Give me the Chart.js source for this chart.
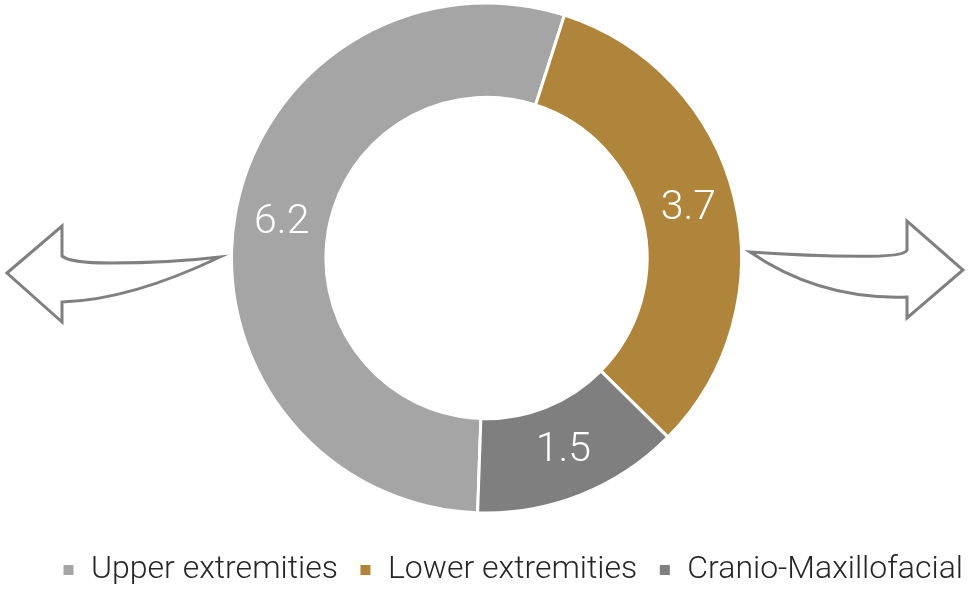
<!DOCTYPE html>
<html>
<head>
<meta charset="utf-8">
<script src="https://cdn.jsdelivr.net/npm/chart.js@4.4.0/dist/chart.umd.min.js"></script>
<style>
  html, body { margin: 0; padding: 0; background: #fff; }
  #wrap { width: 973px; height: 590px; position: relative; }
</style>
</head>
<body>
<div id="wrap"><canvas id="regionChart"></canvas></div>
<script>
// chart data
const regions = ["Upper extremities", "Lower extremities", "Cranio-Maxillofacial"];
const shares = [6.2, 3.7, 1.5];
const sliceColors = ["#a5a5a5", "#af843b", "#7f7f7f"];

// white value labels in the middle of each ring slice
const valueLabels = {
    id: "valueLabels",
    afterDatasetsDraw(chart) {
        let ctx = chart.ctx;
        let meta = chart.getDatasetMeta(0);
        ctx.save();
        ctx.fillStyle = "#fff";
        ctx.font = "300 41px Roboto";
        ctx.textAlign = "center";
        ctx.textBaseline = "middle";
        meta.data.forEach((arc, i) => {
            let pos = arc.tooltipPosition();
            ctx.fillText(String(shares[i]), pos.x, pos.y);
        });
        ctx.restore();
    }
};

// the two outline arrows either side of the ring (decoration only)
const sideArrows = {
    id: "sideArrows",
    afterDraw(chart) {
        let ctx = chart.ctx;
        ctx.save();
        ctx.strokeStyle = "#808080";
        ctx.lineWidth = 3;
        ctx.lineJoin = "miter";

        // left arrow
        ctx.beginPath();
        ctx.moveTo(7, 273);
        ctx.lineTo(62, 226);
        ctx.lineTo(62, 256);
        ctx.quadraticCurveTo(70, 263, 110, 263);
        ctx.quadraticCurveTo(170, 263, 220, 257);
        ctx.quadraticCurveTo(130, 300, 62, 302);
        ctx.lineTo(62, 322);
        ctx.closePath();
        ctx.stroke();

        // right arrow
        ctx.beginPath();
        ctx.moveTo(750, 252);
        ctx.quadraticCurveTo(820, 257, 880, 256);
        ctx.quadraticCurveTo(905, 255, 907, 250);
        ctx.lineTo(907, 221);
        ctx.lineTo(963, 270);
        ctx.lineTo(907, 318);
        ctx.lineTo(907, 297);
        ctx.quadraticCurveTo(820, 300, 750, 252);
        ctx.closePath();
        ctx.stroke();

        ctx.restore();
    }
};

new Chart(document.getElementById("regionChart"), {
    type: "doughnut",
    data: {
        labels: regions,
        datasets: [{
            data: shares,
            backgroundColor: sliceColors,
            borderColor: "#fff",
            borderWidth: 3,
            hoverOffset: 0,
            radius: 255
        }]
    },
    options: {
        responsive: true,
        maintainAspectRatio: false,
        animation: false,
        rotation: 182,
        cutout: "63%",
        layout: {
            padding: { top: 0, bottom: -6, left: -14, right: -11 }
        },
        plugins: {
            legend: {
                position: "bottom",
                align: "end",
                // empty title only used as a spacer above the legend row
                title: {
                    display: true,
                    text: "",
                    font: { size: 1, lineHeight: 1 },
                    padding: { top: 16, bottom: 0 }
                },
                labels: {
                    boxWidth: 13,
                    boxHeight: 13,
                    padding: 21,
                    color: "#262626",
                    font: { family: "Roboto", weight: "300", size: 32 }
                }
            },
            tooltip: { enabled: false }
        }
    },
    plugins: [valueLabels, sideArrows]
});
</script>
</body>
</html>
